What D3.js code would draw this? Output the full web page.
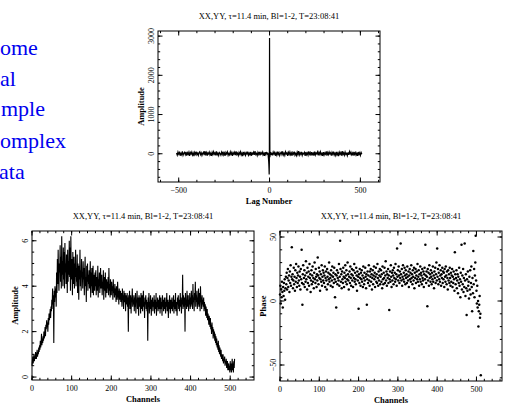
<!DOCTYPE html>
<html><head><meta charset="utf-8">
<script src="https://cdn.jsdelivr.net/npm/d3@7"></script>
<style>body{margin:0;background:#fff;overflow:hidden}svg{display:block}</style>
</head><body>
<svg id="c" width="505" height="403"></svg>
<script>
const title = "XX,YY, τ=11.4 min, Bl=1-2, T=23:08:41";
const sideText = ["ome","al","mple","omplex","ata"];

// lag spectrum: lags -512..-16 step 4, -12..12 step 1, 16..508 step 4
const lagNoiseNeg = [20,-35,45,-10,30,-50,15,-25,60,-40,10,35,-20,50,-45,25,
-15,40,-55,30,-5,45,-30,20,-60,35,-10,55,-25,15,-40,30,
50,-20,25,-45,10,40,-35,65,-15,30,-50,20,-5,45,-30,15,
-55,35,-20,50,-10,25,-40,60,-25,15,-45,30,5,-35,40,-15,
55,-30,20,-50,35,-5,45,-40,10,-25,50,-15,30,-55,25,-10,
40,-35,60,-20,15,-45,35,-10,50,-30,20,-60,45,-15,25,-40,
30,-5,55,-35,15,-25,45,-50,20,-10,40,-30,65,-20,10,-45,
35,-15,50,-40,25,-5,45,-30,15,-55,40,-20,30];
const lagCenter = [15,-25,30,-40,20,-80,-120,-180,-260,-380,-530,-220,2950,1100,-90,60,-40,35,-20,45,-30,25,-35,20,-15];
const lagNoisePos = [-25,45,-10,35,-50,20,-35,55,-15,30,-45,10,40,-20,60,-30,
15,-40,50,-5,25,-55,35,-15,45,-25,20,-50,30,-10,55,-35,
10,-45,40,-20,65,-30,25,-15,50,-40,15,-5,35,-55,45,-25,
20,-35,60,-10,30,-50,40,-20,15,-45,55,-30,25,-5,45,-40,
35,-15,50,-25,10,-55,40,-35,20,-10,60,-45,30,-20,45,-5,
25,-50,35,-15,55,-30,15,-40,50,-25,20,-60,40,-10,30,-45,
65,-20,25,-35,45,-15,10,-50,35,-30,55,-5,
40,-25,20,-45,50,-15,30,-35,15,-55,45,-20,25,-40,35,-10];

// amplitude per channel 0..511
const amplitude = [
0.5,0.7,0.9,0.6,0.8,1.0,0.7,0.9,0.8,1.1,0.9,0.8,1.0,1.2,0.9,1.1,
1.0,1.3,1.1,1.4,1.2,1.6,1.3,1.5,1.9,1.4,1.7,1.5,1.8,1.6,2.0,1.7,
1.9,2.2,1.8,2.3,2.1,2.5,2.2,2.4,2.0,2.6,2.3,2.8,2.5,2.7,3.0,2.6,
3.1,2.9,3.4,3.2,3.9,3.0,3.6,1.5,3.8,3.3,4.0,3.5,3.9,3.1,4.6,3.7,
5.2,4.1,5.6,4.4,3.8,5.0,4.6,5.8,4.2,5.3,3.9,6.2,4.5,5.1,4.0,5.7,
4.3,5.5,3.9,5.9,4.6,5.0,4.1,5.4,4.8,3.7,5.6,4.2,5.1,4.5,6.0,4.4,
5.7,3.8,6.2,4.3,5.2,4.7,3.6,5.5,4.1,4.9,5.3,3.9,5.0,4.4,5.6,4.0,
4.8,4.2,5.4,3.7,5.0,4.5,3.4,4.9,4.3,5.6,4.0,4.7,3.8,5.2,4.4,4.6,
3.9,5.1,4.3,4.8,3.6,4.6,5.3,4.0,4.4,3.3,4.9,4.2,5.0,3.8,4.5,4.1,
4.7,3.9,4.4,5.1,3.5,4.6,4.0,4.8,3.7,4.3,4.9,3.6,4.5,4.2,3.8,4.6,
4.0,4.7,3.6,4.4,4.1,3.8,4.9,3.5,4.3,4.0,4.6,3.7,4.2,4.8,3.9,4.1,
4.5,3.6,4.2,3.9,4.7,3.4,4.0,4.4,3.8,4.6,3.5,4.1,4.3,3.7,4.2,3.9,
4.4,3.6,4.8,3.8,4.1,3.5,4.3,3.9,3.6,4.2,3.8,4.0,3.4,4.3,3.7,3.9,
3.5,4.1,3.6,3.9,3.3,4.0,3.7,3.4,4.2,3.5,3.8,3.2,3.9,3.6,3.4,3.8,
3.3,3.7,3.5,3.1,3.9,3.4,3.6,3.0,3.8,3.3,3.5,3.7,2.9,3.6,3.4,3.2,
3.7,3.1,3.5,2.0,3.6,3.2,3.8,3.0,3.4,3.6,2.8,3.5,3.3,3.9,3.1,3.4,
3.2,3.6,2.9,3.5,3.1,3.7,2.8,3.4,3.3,3.8,3.0,3.5,3.2,2.7,3.6,3.3,
3.1,3.5,2.8,3.7,3.2,3.0,3.6,2.9,3.4,3.8,3.1,3.3,2.6,3.5,3.2,3.6,
3.0,3.4,2.9,3.3,1.6,3.5,3.1,3.7,2.8,3.3,3.0,3.6,3.2,2.7,3.4,3.1,
3.5,2.9,3.3,3.1,3.6,2.8,3.2,3.4,3.0,3.7,2.7,3.3,3.1,3.5,2.9,3.2,
3.4,3.0,3.6,2.8,3.2,3.5,3.0,3.3,2.7,3.6,3.1,3.4,2.9,3.2,3.5,3.0,
3.3,2.8,3.5,3.1,3.7,2.9,3.2,3.4,2.6,3.3,3.0,3.6,3.1,2.8,3.4,3.2,
3.0,3.5,2.9,3.3,3.1,3.6,2.8,3.2,3.4,3.0,3.7,2.9,3.3,3.1,2.7,3.5,
3.2,3.6,3.0,3.4,2.9,3.3,3.7,3.1,3.5,2.8,3.4,3.2,4.5,3.0,3.6,3.3,
3.1,3.5,2.0,3.7,3.2,3.4,3.0,3.8,3.1,3.3,3.6,2.9,3.4,3.2,3.7,3.0,
3.5,3.1,3.8,3.2,3.6,3.0,4.1,3.3,3.5,2.9,3.7,3.4,4.2,3.1,3.6,3.3,
3.8,3.0,3.5,3.2,3.9,3.1,3.4,3.7,2.9,4.0,3.3,3.5,3.0,3.6,3.2,3.4,
3.1,3.5,2.9,3.3,3.0,3.2,2.7,3.1,2.9,2.6,3.0,2.5,2.8,2.6,2.3,2.7,
2.5,2.2,2.6,2.1,2.3,1.9,2.4,2.0,2.2,1.7,2.1,1.8,2.0,1.6,1.9,1.5,
1.8,1.4,1.7,1.3,1.5,1.2,1.6,1.1,1.4,1.0,1.3,1.1,0.9,1.2,0.8,1.0,
0.9,0.7,1.0,0.6,0.8,0.7,0.9,0.5,0.7,0.6,0.8,0.4,0.6,0.7,0.3,0.5,
0.6,0.3,0.5,0.2,0.7,0.3,0.6,0.2,0.5,0.8,0.3,0.6,0.2,0.7,0.4,0.8];

// phase (degrees) per channel 0..511
const phase = [
5,12,-2,9,3,15,7,-5,11,4,14,8,17,1,10,19,
13,22,9,18,25,11,16,20,7,23,14,28,12,19,42,17,
21,10,16,26,13,19,8,24,15,29,18,11,22,14,20,27,
16,12,23,19,9,25,17,40,14,-3,21,28,13,18,24,11,
20,15,31,17,22,9,26,14,19,23,12,29,18,21,7,16,
24,13,20,27,15,18,10,22,30,17,14,25,19,11,21,16,
34,20,13,26,18,23,8,17,21,15,28,12,19,24,16,22,
14,20,27,11,18,23,16,9,25,19,13,22,17,30,15,21,
18,12,24,20,16,27,11,19,22,14,26,17,3,21,15,-5,
20,24,13,18,22,16,29,12,19,47,25,15,21,10,23,17,
14,26,19,11,22,18,28,15,20,24,13,17,30,21,16,9,
19,23,14,27,18,12,21,25,16,20,11,24,18,29,15,22,
17,13,26,20,8,23,16,19,-6,21,14,25,18,12,22,17,
24,15,20,11,27,18,13,22,16,26,19,10,21,-3,17,23,
14,20,28,16,12,23,19,25,15,21,9,18,24,13,20,27,
17,22,11,19,26,15,21,14,29,18,12,23,16,20,25,13,
19,24,15,21,10,27,17,13,22,18,26,14,20,31,16,23,
12,21,18,25,14,20,-7,17,23,15,28,19,11,22,16,24,
20,13,26,18,22,15,29,17,21,12,41,19,24,16,27,20,
14,23,18,45,21,16,25,12,19,28,17,22,15,26,20,13,
24,18,21,14,27,19,16,23,11,20,25,17,22,15,28,18,
21,13,24,19,16,26,10,22,18,25,14,20,23,17,29,15,
19,24,12,21,17,27,15,22,20,13,25,18,16,23,11,21,
26,17,44,20,14,23,19,-4,25,16,22,12,28,18,21,15,
24,19,13,22,17,27,15,20,10,23,18,26,14,21,30,16,
41,19,25,13,22,17,28,15,20,24,12,21,18,26,14,23,
17,22,11,25,19,15,27,20,13,23,18,9,24,16,21,14,
26,18,12,22,15,20,25,11,19,14,23,17,8,38,21,13,
18,24,10,16,21,6,19,14,26,12,17,3,22,15,44,9,
20,13,25,7,18,11,45,16,4,21,10,-11,17,8,23,12,
15,2,19,9,24,5,14,27,11,-8,18,6,39,13,25,3,
20,30,51,16,8,-2,12,-5,0,-20,-8,-3,4,-13,-10,-58];

const lagTicks = [-500,0,500];
const lagAmpTicks = [0,1000,2000,3000];
const chanTicks = [0,100,200,300,400,500];
const specAmpTicks = [0,2,4,6];
const phaseTicks = [-50,0,50];

const svg = d3.select("#c");
const FONT = "'Liberation Serif', 'DejaVu Serif', serif";

// side text (partially visible slide text)
const sideX = [0,0,1,0,-1], sideY = [55,85.5,116,147.5,179];
svg.append("g").selectAll("text").data(sideText).join("text")
  .attr("x",(d,i)=>sideX[i]).attr("y",(d,i)=>sideY[i])
  .attr("font-family",FONT).attr("font-size",22)
  .attr("fill","#0000ee").text(d=>d);

function panel(o){
  const g = svg.append("g");
  const x = d3.scaleLinear().domain(o.xd).range(o.xr);
  const y = d3.scaleLinear().domain(o.yd).range(o.yr);
  const [x0,x1] = o.xr, [y0,y1] = o.yr; // y0 bottom, y1 top
  const t = g.append("g").attr("stroke","#000").attr("stroke-width",1).attr("fill","none");
  t.append("rect").attr("x",x0).attr("y",y1).attr("width",x1-x0).attr("height",y0-y1);
  const inX = v => v>=o.xd[0] && v<=o.xd[1];
  const inY = v => v>=o.yd[0] && v<=o.yd[1];
  const xt = (v,L)=>{ if(!inX(v))return; const px=x(v);
    t.append("line").attr("x1",px).attr("x2",px).attr("y1",y0).attr("y2",y0-L);
    t.append("line").attr("x1",px).attr("x2",px).attr("y1",y1).attr("y2",y1+L);};
  const yt = (v,L)=>{ if(!inY(v))return; const py=y(v);
    t.append("line").attr("y1",py).attr("y2",py).attr("x1",x0).attr("x2",x0+L);
    t.append("line").attr("y1",py).attr("y2",py).attr("x1",x1).attr("x2",x1-L);};
  d3.range(o.xd[0]-o.xd[0]%o.xMinor, o.xd[1], o.xMinor).forEach(v=>xt(v,2.2));
  d3.range(o.yd[0]-o.yd[0]%o.yMinor, o.yd[1], o.yMinor).forEach(v=>yt(v,2.2));
  o.xTicks.forEach(v=>xt(v,4.5));
  o.yTicks.forEach(v=>yt(v,4.5));
  const fmt = v => (v<0?"\u2212":"")+Math.abs(v);
  const txt = g.append("g").attr("font-family",FONT).attr("fill","#000");
  txt.selectAll(".xl").data(o.xTicks).join("text")
    .attr("x",d=>x(d)).attr("y",y0+10.5).attr("text-anchor","middle")
    .attr("font-size",8).text(fmt);
  txt.selectAll(".yl").data(o.yTicks).join("text")
    .attr("transform",d=>`translate(${x0-4.5},${y(d)}) rotate(-90)`)
    .attr("text-anchor","middle").attr("font-size",8).text(fmt);
  txt.append("text").attr("x",(x0+x1)/2).attr("y",y1-12.5).attr("text-anchor","middle")
    .attr("font-size",8.5).text(title);
  txt.append("text").attr("x",(x0+x1)/2).attr("y",y0+21.5).attr("text-anchor","middle")
    .attr("font-size",8.5).attr("font-weight","bold").text(o.xLabel);
  txt.append("text").attr("transform",`translate(${x0-14},${(y0+y1)/2}) rotate(-90)`)
    .attr("text-anchor","middle").attr("font-size",8.5).attr("font-weight","bold").text(o.yLabel);
  return {g,x,y};
}

// top: lag spectrum
const lagData = [];
lagNoiseNeg.forEach((v,i)=>lagData.push([-512+4*i,v]));
lagCenter.forEach((v,i)=>lagData.push([-12+i,v]));
lagNoisePos.forEach((v,i)=>lagData.push([16+4*i,v]));
const p1 = panel({xd:[-614,608], yd:[-720,3130], xr:[158,380], yr:[182,31],
  xTicks:lagTicks, yTicks:lagAmpTicks, xMinor:100, yMinor:200,
  xLabel:"Lag Number", yLabel:"Amplitude"});
p1.g.append("path").datum(lagData)
  .attr("d", d3.line().x(d=>p1.x(d[0])).y(d=>p1.y(d[1])))
  .attr("fill","none").attr("stroke","#000").attr("stroke-width",1.2);

// bottom-left: amplitude vs channel
const p2 = panel({xd:[0,560], yd:[-0.13,6.43], xr:[32,254], yr:[380,231],
  xTicks:chanTicks, yTicks:specAmpTicks, xMinor:20, yMinor:0.5,
  xLabel:"Channels", yLabel:"Amplitude"});
p2.g.append("path").datum(amplitude)
  .attr("d", d3.line().x((d,i)=>p2.x(i)).y(d=>p2.y(d)))
  .attr("fill","none").attr("stroke","#000").attr("stroke-width",1.1);

// bottom-right: phase vs channel
const p3 = panel({xd:[0,565], yd:[-62.5,54.7], xr:[280,502], yr:[381,231],
  xTicks:chanTicks, yTicks:phaseTicks, xMinor:20, yMinor:10,
  xLabel:"Channels", yLabel:"Phase"});
p3.g.append("g").selectAll("circle").data(phase).join("circle")
  .attr("cx",(d,i)=>p3.x(i)).attr("cy",d=>p3.y(d)).attr("r",1.25).attr("fill","#000");
</script>
</body></html>
